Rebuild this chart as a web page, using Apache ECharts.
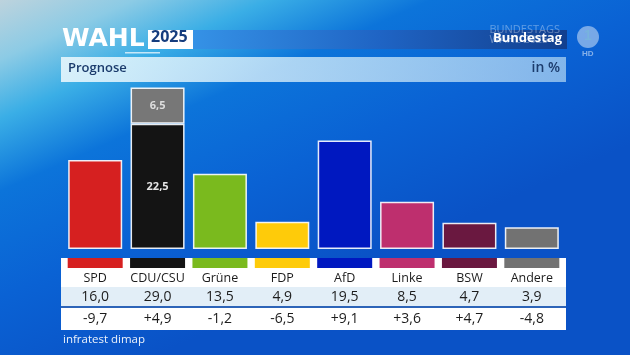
<!DOCTYPE html>
<html><head><meta charset="utf-8">
<script src="https://cdn.jsdelivr.net/npm/echarts@6/dist/echarts.min.js"></script>
<style>html,body{margin:0;padding:0;background:#0a5fd2}#c{width:630px;height:355px}</style>
</head><body><div id="c"></div>
<script>
// ---- data ----
const categories = ['SPD', 'CDU/CSU', 'Grüne', 'FDP', 'AfD', 'Linke', 'BSW', 'Andere'];
const totals = [16.0, 29.0, 13.5, 4.9, 19.5, 8.5, 4.7, 3.9];
const lowerSegment = [16.0, 22.5, 13.5, 4.9, 19.5, 8.5, 4.7, 3.9];
const upperSegment = [null, 6.5, null, null, null, null, null, null];
const changes = [-9.7, 4.9, -1.2, -6.5, 9.1, 3.6, 4.7, -4.8];

// ---- styles ----
const partyColors = ['#d62020', '#141414', '#7aba1e', '#fecb0a', '#0018c0', '#be2f6e', '#6a1840', '#727272'];
const csuColor = '#777777';
const FONT = '"Open Sans", "Noto Sans", sans-serif';
const fmt = v => v.toFixed(1).replace('.', ',');
const fmtChange = v => (v > 0 ? '+' : '') + fmt(v);

const chart = echarts.init(document.getElementById('c'), null, {renderer: 'canvas'});

const L = 64, W = 499;
const border = {borderColor: 'rgba(255,255,255,0.9)', borderWidth: 1.5};

const tableAxis = (data, margin, size, formatter) => ({
  type: 'category', gridIndex: 0, position: 'bottom', offset: 0, data: data,
  axisLine: {show: false}, axisTick: {show: false}, splitLine: {show: false},
  axisLabel: {margin: margin, verticalAlign: 'middle', color: '#1c1c1c', fontFamily: FONT, fontSize: size,
    formatter: formatter || (v => v), interval: 0}
});

chart.setOption({
  backgroundColor: {
    type: 'linear', x: 0, y: 0, x2: 0.25, y2: 1,
    colorStops: [
      {offset: 0, color: '#bdd3dd'},
      {offset: 0.14, color: '#8ccbe5'},
      {offset: 0.28, color: '#3aaee6'},
      {offset: 0.45, color: '#0c74da'},
      {offset: 0.7, color: '#0a62d4'},
      {offset: 1, color: '#0a52c6'}
    ]
  },
  animation: false,
  grid: [
    {left: L, width: W, top: 82, height: 167},
    {left: L, width: W, top: 258, height: 10}
  ],
  xAxis: [
    tableAxis(categories, 29, 12.5),
    tableAxis(totals, 48, 14, v => fmt(Number(v))),
    tableAxis(changes, 70, 14, v => fmtChange(Number(v))),
    {type: 'category', gridIndex: 1, data: categories, show: false}
  ],
  yAxis: [
    {type: 'value', gridIndex: 0, min: 0, max: 30, show: false},
    {type: 'value', gridIndex: 1, min: 0, max: 1, show: false}
  ],
  graphic: [
    // header
    {type: 'text', left: 62, top: 27, z: 5, style: {text: 'WAHL', fill: '#fff', font: 'bold 25px "DejaVu Sans", sans-serif'}},
    {type: 'rect', shape: {x: 125, y: 52, width: 35, height: 1.5}, z: 5, style: {fill: 'rgba(255,255,255,0.7)'}},
    {type: 'rect', shape: {x: 148, y: 30, width: 45, height: 19}, z: 5, style: {fill: '#ffffff'}},
    {type: 'text', left: 151, top: 29, z: 6, style: {text: '2025', fill: '#163d7e', font: 'bold 16px "Open Sans", sans-serif'}},
    {type: 'rect', shape: {x: 193, y: 30, width: 374, height: 19}, z: 5, style: {
      fill: {type: 'linear', x: 0, y: 0, x2: 1, y2: 0, colorStops: [
        {offset: 0, color: '#3592e6'}, {offset: 0.5, color: '#1f64c4'}, {offset: 1, color: '#123f8e'}]}}},
    {type: 'text', right: 70, top: 24, z: 6, style: {text: 'BUNDESTAGS\nWAHL 2025', fill: 'rgba(255,255,255,0.35)', font: '11px "Open Sans", sans-serif', lineHeight: 10, align: 'right'}},
    {type: 'text', right: 68, top: 32, z: 7, style: {text: 'Bundestag', fill: '#fff', font: 'bold 13px "Open Sans", sans-serif'}},
    {type: 'circle', shape: {cx: 588, cy: 37, r: 11}, z: 5, style: {fill: 'rgba(255,255,255,0.45)'}},
    {type: 'text', left: 584, top: 29, z: 6, style: {text: '1', fill: 'rgba(120,180,220,0.9)', font: 'bold 14px sans-serif'}},
    {type: 'text', left: 582, top: 50, z: 6, style: {text: 'HD', fill: 'rgba(255,255,255,0.5)', font: 'bold 8px sans-serif'}},
    // Prognose bar
    {type: 'rect', shape: {x: 61, y: 57, width: 505, height: 25}, z: 5, style: {
      fill: {type: 'linear', x: 0, y: 0, x2: 1, y2: 0, colorStops: [
        {offset: 0, color: 'rgba(235,248,253,0.88)'}, {offset: 1, color: 'rgba(210,238,250,0.6)'}]}}},
    {type: 'text', left: 68, top: 62, z: 6, style: {text: 'Prognose', fill: '#1b3b6c', font: '600 13px "Open Sans", sans-serif'}},
    {type: 'text', right: 70, top: 61, z: 6, style: {text: 'in %', fill: '#1b3b6c', font: '600 14px "Open Sans", sans-serif'}},
    // table panel
    {type: 'rect', shape: {x: 61, y: 258, width: 505, height: 72}, z: -10, style: {fill: '#ffffff'}},
    {type: 'rect', shape: {x: 61, y: 287, width: 505, height: 19}, z: -9, style: {fill: '#e2eef7'}},
    {type: 'rect', shape: {x: 61, y: 306, width: 505, height: 2}, z: -9, style: {fill: '#2d64b8'}},
    {type: 'text', left: 63, top: 334, z: 6, style: {text: 'infratest dimap', fill: 'rgba(255,255,255,0.92)', font: '11.5px "Open Sans", sans-serif'}}
  ],
  series: [
    {
      type: 'bar', xAxisIndex: 0, yAxisIndex: 0, stack: 'p', barWidth: 54,
      data: lowerSegment.map((v, i) => ({value: v, itemStyle: Object.assign({color: partyColors[i]}, border),
        label: {show: i === 1}})),
      label: {position: 'inside', color: '#e6e6e6', fontFamily: FONT, fontWeight: 'bold', fontSize: 11, formatter: p => fmt(p.value)}
    },
    {
      type: 'bar', xAxisIndex: 0, yAxisIndex: 0, stack: 'p', barWidth: 54,
      data: upperSegment,
      itemStyle: Object.assign({color: csuColor}, border),
      label: {show: true, position: 'inside', color: '#dedede', fontFamily: FONT, fontWeight: 'bold', fontSize: 11, formatter: p => fmt(p.value)}
    },
    {
      type: 'bar', xAxisIndex: 3, yAxisIndex: 1, barWidth: 55,
      data: categories.map((c, i) => ({value: 1, itemStyle: {color: partyColors[i]}})),
      silent: true
    }
  ]
});
</script>
</body></html>
